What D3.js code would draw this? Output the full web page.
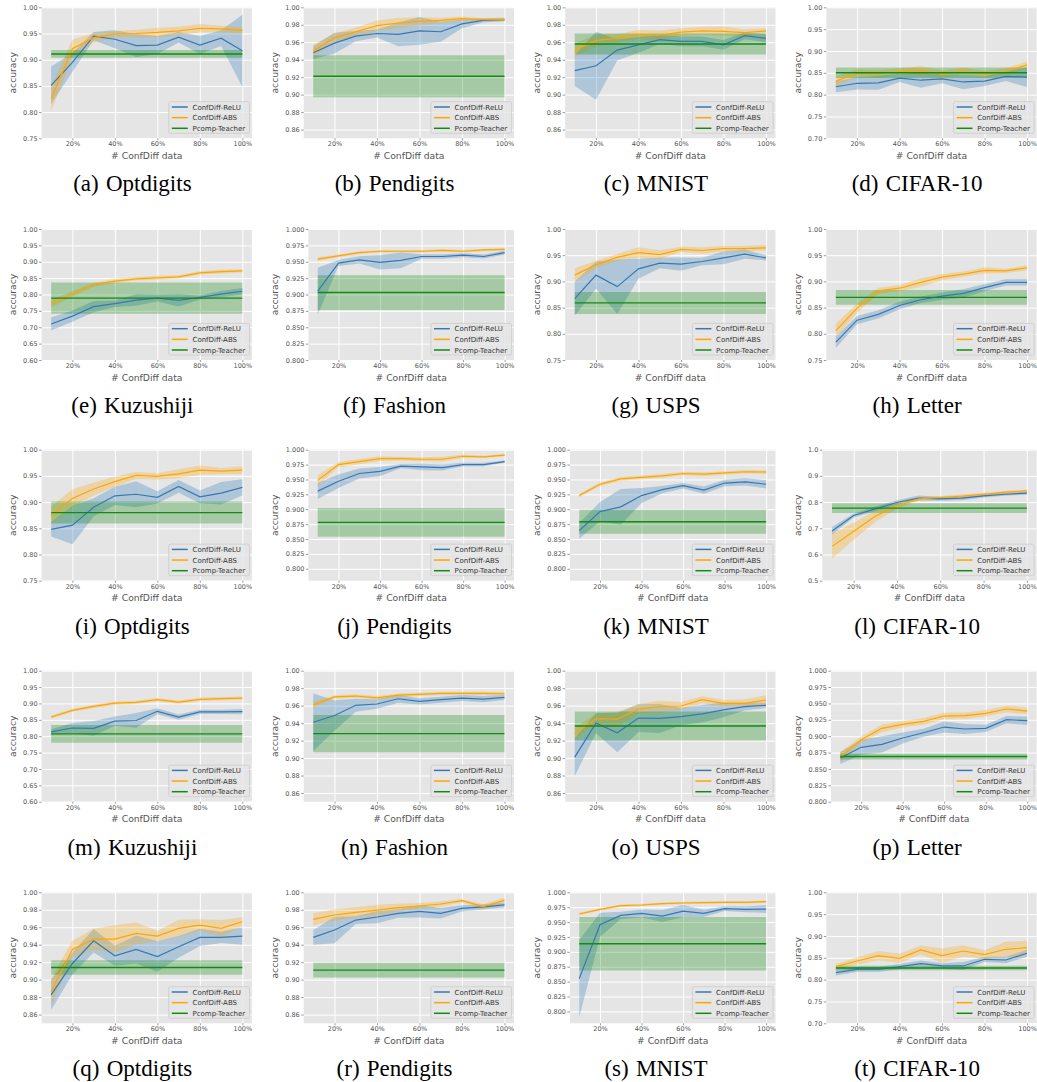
<!DOCTYPE html>
<html>
<head>
<meta charset="utf-8">
<script src="https://cdn.jsdelivr.net/npm/d3@7"></script>
<style>
  body { margin: 0; background: #fff; }
  svg { display: block; }
</style>
</head>
<body>
<div id="chart"></div>
<script>
// x: fraction of ConfDiff data
const xFractions = [0.1, 0.2, 0.3, 0.4, 0.5, 0.6, 0.7, 0.8, 0.9, 1.0];
const xTickValues = [0.2, 0.4, 0.6, 0.8, 1.0];
const seriesNames = ["ConfDiff-ReLU", "ConfDiff-ABS", "Pcomp-Teacher"];

const panelLetters = ["a","b","c","d","e","f","g","h","i","j","k","l","m","n","o","p","q","r","s","t"];
const datasetNames = ["Optdigits","Pendigits","MNIST","CIFAR-10","Kuzushiji","Fashion","USPS","Letter",
                      "Optdigits","Pendigits","MNIST","CIFAR-10","Kuzushiji","Fashion","USPS","Letter",
                      "Optdigits","Pendigits","MNIST","CIFAR-10"];

// y axis: lower limit (upper is always 1.0) and tick step
const yMin      = [0.75, 0.85, 0.85, 0.70, 0.60, 0.80, 0.75, 0.75, 0.75, 0.78, 0.78, 0.50, 0.60, 0.85, 0.85, 0.80, 0.85, 0.85, 0.78, 0.70];
const yTickStep = [0.05, 0.02, 0.02, 0.05, 0.05, 0.025, 0.05, 0.05, 0.05, 0.025, 0.025, 0.1, 0.05, 0.02, 0.02, 0.025, 0.02, 0.02, 0.025, 0.05];

// Pcomp-Teacher (constant over x): mean and std
const pcompMean = [0.911, 0.921, 0.958, 0.850, 0.789, 0.903, 0.859, 0.8696, 0.880, 0.878, 0.879, 0.777, 0.807, 0.928, 0.9366, 0.869, 0.9139, 0.9109, 0.9135, 0.8267];
const pcompSd   = [0.0075, 0.024, 0.012, 0.012, 0.048, 0.0265, 0.021, 0.014, 0.021, 0.024, 0.020, 0.019, 0.027, 0.0213, 0.0166, 0.0044, 0.0084, 0.0085, 0.045, 0.005];

// ConfDiff-ReLU / ConfDiff-ABS: mean and std per x
const reluA   = [0.851, 0.895, 0.945, 0.939, 0.927, 0.928, 0.943, 0.928, 0.941, 0.917];
const reluSdA = [0.036, 0.018, 0.008, 0.017, 0.022, 0.017, 0.010, 0.017, 0.015, 0.069];
const absA    = [0.826, 0.921, 0.942, 0.949, 0.950, 0.952, 0.955, 0.960, 0.959, 0.956];
const absSdA  = [0.024, 0.017, 0.009, 0.006, 0.007, 0.009, 0.008, 0.008, 0.006, 0.006];

const reluB   = [0.948, 0.959, 0.967, 0.970, 0.969, 0.973, 0.972, 0.981, 0.985, 0.986];
const reluSdB = [0.0075, 0.012, 0.006, 0.0045, 0.0135, 0.016, 0.0115, 0.005, 0.0025, 0.002];
const absB    = [0.950, 0.965, 0.972, 0.979, 0.982, 0.984, 0.985, 0.987, 0.986, 0.986];
const absSdB  = [0.0075, 0.005, 0.005, 0.006, 0.006, 0.0045, 0.003, 0.0025, 0.0015, 0.002];

const reluC   = [0.9275, 0.933, 0.951, 0.957, 0.963, 0.961, 0.961, 0.957, 0.9675, 0.9645];
const reluSdC = [0.0175, 0.039, 0.012, 0.009, 0.005, 0.0055, 0.0055, 0.0055, 0.004, 0.0045];
const absC    = [0.951, 0.962, 0.9645, 0.969, 0.968, 0.9715, 0.973, 0.9725, 0.971, 0.973];
const absSdC  = [0.0075, 0.0065, 0.005, 0.005, 0.0055, 0.0045, 0.0045, 0.0055, 0.004, 0.003];

const reluD   = [0.818, 0.826, 0.827, 0.838, 0.833, 0.836, 0.829, 0.831, 0.842, 0.840];
const reluSdD = [0.0125, 0.014, 0.016, 0.009, 0.0175, 0.010, 0.0165, 0.011, 0.011, 0.0225];
const absD    = [0.831, 0.849, 0.848, 0.853, 0.855, 0.847, 0.854, 0.847, 0.853, 0.868];
const absSdD  = [0.011, 0.009, 0.0085, 0.0075, 0.0105, 0.0085, 0.0075, 0.0075, 0.0075, 0.008];

const reluE   = [0.710, 0.734, 0.763, 0.772, 0.783, 0.789, 0.782, 0.791, 0.801, 0.810];
const reluSdE = [0.020, 0.0175, 0.0175, 0.010, 0.0175, 0.010, 0.0185, 0.006, 0.0095, 0.010];
const absE    = [0.772, 0.8015, 0.830, 0.841, 0.848, 0.851, 0.854, 0.866, 0.870, 0.872];
const absSdE  = [0.012, 0.008, 0.006, 0.006, 0.005, 0.006, 0.005, 0.005, 0.006, 0.005];

const reluF   = [0.905, 0.948, 0.953, 0.949, 0.952, 0.958, 0.958, 0.960, 0.958, 0.964];
const reluSdF = [0.036, 0.0045, 0.0055, 0.011, 0.012, 0.0035, 0.0035, 0.003, 0.003, 0.003];
const absF    = [0.954, 0.959, 0.964, 0.966, 0.966, 0.966, 0.9675, 0.966, 0.968, 0.969];
const absSdF  = [0.003, 0.002, 0.002, 0.002, 0.002, 0.002, 0.002, 0.002, 0.002, 0.002];

const reluG   = [0.867, 0.912, 0.890, 0.924, 0.935, 0.933, 0.938, 0.945, 0.952, 0.945];
const reluSdG = [0.0325, 0.026, 0.052, 0.019, 0.010, 0.0125, 0.007, 0.0125, 0.009, 0.005];
const absG    = [0.912, 0.932, 0.946, 0.955, 0.951, 0.961, 0.959, 0.9625, 0.9625, 0.964];
const absSdG  = [0.013, 0.0075, 0.0065, 0.010, 0.0085, 0.005, 0.006, 0.005, 0.005, 0.0055];

const reluH   = [0.784, 0.826, 0.837, 0.854, 0.865, 0.872, 0.877, 0.888, 0.898, 0.898];
const reluSdH = [0.011, 0.008, 0.008, 0.007, 0.006, 0.007, 0.008, 0.007, 0.006, 0.006];
const absH    = [0.806, 0.849, 0.882, 0.887, 0.898, 0.908, 0.914, 0.921, 0.920, 0.926];
const absSdH  = [0.013, 0.009, 0.006, 0.006, 0.008, 0.006, 0.005, 0.006, 0.004, 0.005];

const reluI   = [0.848, 0.856, 0.890, 0.912, 0.915, 0.909, 0.930, 0.910, 0.917, 0.928];
const reluSdI = [0.0135, 0.0365, 0.0175, 0.0175, 0.025, 0.0115, 0.012, 0.012, 0.0215, 0.0155];
const absI    = [0.875, 0.907, 0.925, 0.939, 0.951, 0.949, 0.954, 0.961, 0.959, 0.961];
const absSdI  = [0.0165, 0.0175, 0.0125, 0.010, 0.0065, 0.006, 0.0085, 0.009, 0.006, 0.0075];

const reluJ   = [0.9305, 0.947, 0.960, 0.9635, 0.9725, 0.971, 0.970, 0.975, 0.975, 0.980];
const reluSdJ = [0.0135, 0.0115, 0.0085, 0.0075, 0.0035, 0.0055, 0.005, 0.003, 0.003, 0.002];
const absJ    = [0.9485, 0.975, 0.980, 0.985, 0.985, 0.984, 0.984, 0.989, 0.988, 0.991];
const absSdJ  = [0.009, 0.0045, 0.0045, 0.004, 0.003, 0.0035, 0.004, 0.003, 0.002, 0.002];

const reluK   = [0.864, 0.896, 0.904, 0.923, 0.933, 0.9395, 0.932, 0.944, 0.946, 0.942];
const reluSdK = [0.0135, 0.016, 0.030, 0.0125, 0.006, 0.0045, 0.006, 0.0055, 0.006, 0.007];
const absK    = [0.923, 0.942, 0.951, 0.9535, 0.956, 0.960, 0.959, 0.961, 0.963, 0.9625];
const absSdK  = [0.003, 0.003, 0.003, 0.003, 0.003, 0.003, 0.003, 0.003, 0.003, 0.003];

const reluL   = [0.690, 0.749, 0.774, 0.7985, 0.815, 0.8125, 0.815, 0.824, 0.830, 0.834];
const reluSdL = [0.015, 0.0075, 0.009, 0.0085, 0.010, 0.0075, 0.0075, 0.0065, 0.006, 0.0055];
const absL    = [0.631, 0.689, 0.746, 0.786, 0.8125, 0.8175, 0.8225, 0.830, 0.838, 0.843];
const absSdL  = [0.0475, 0.0325, 0.0215, 0.010, 0.006, 0.0055, 0.0065, 0.0055, 0.005, 0.005];

const reluM   = [0.813, 0.825, 0.824, 0.846, 0.848, 0.876, 0.8585, 0.874, 0.874, 0.875];
const reluSdM = [0.0085, 0.015, 0.0225, 0.014, 0.0225, 0.009, 0.008, 0.0065, 0.0065, 0.008];
const absM    = [0.8585, 0.879, 0.891, 0.901, 0.903, 0.9115, 0.904, 0.9125, 0.9145, 0.9165];
const absSdM  = [0.005, 0.005, 0.005, 0.005, 0.005, 0.005, 0.005, 0.005, 0.005, 0.005];

const reluN   = [0.941, 0.9487, 0.9604, 0.9619, 0.9679, 0.9649, 0.9668, 0.9687, 0.9675, 0.9694];
const reluSdN = [0.033, 0.0175, 0.0075, 0.0055, 0.0045, 0.0035, 0.0035, 0.0035, 0.0035, 0.003];
const absN    = [0.961, 0.970, 0.971, 0.969, 0.972, 0.973, 0.974, 0.974, 0.974, 0.9736];
const absSdN  = [0.0035, 0.002, 0.002, 0.002, 0.002, 0.002, 0.002, 0.002, 0.002, 0.002];

const reluO   = [0.901, 0.940, 0.929, 0.9457, 0.9453, 0.9475, 0.9506, 0.9551, 0.9589, 0.9604];
const reluSdO = [0.0215, 0.0115, 0.0225, 0.016, 0.0165, 0.010, 0.010, 0.0085, 0.0045, 0.003];
const absO    = [0.928, 0.945, 0.9445, 0.956, 0.959, 0.9596, 0.9668, 0.9626, 0.9626, 0.9664];
const absSdO  = [0.0065, 0.006, 0.0085, 0.006, 0.0065, 0.0045, 0.004, 0.004, 0.0045, 0.0055];

const reluP   = [0.8667, 0.883, 0.8875, 0.8972, 0.9053, 0.914, 0.911, 0.912, 0.9252, 0.9237];
const reluSdP = [0.009, 0.0115, 0.0125, 0.0085, 0.006, 0.0085, 0.0075, 0.0055, 0.0055, 0.0065];
const absP    = [0.8682, 0.8947, 0.912, 0.9181, 0.9226, 0.9308, 0.9313, 0.9349, 0.9415, 0.9384];
const absSdP  = [0.008, 0.005, 0.006, 0.005, 0.005, 0.005, 0.005, 0.005, 0.005, 0.005];

const reluQ   = [0.8826, 0.9185, 0.9445, 0.9273, 0.9346, 0.9265, 0.9376, 0.9484, 0.9484, 0.9499];
const reluSdQ = [0.0175, 0.0125, 0.0135, 0.0115, 0.016, 0.0175, 0.0125, 0.010, 0.0065, 0.010];
const absQ    = [0.8864, 0.9346, 0.9464, 0.9464, 0.9529, 0.9499, 0.9587, 0.9625, 0.9587, 0.9663];
const absSdQ  = [0.015, 0.010, 0.012, 0.016, 0.0125, 0.006, 0.010, 0.0065, 0.0095, 0.005];

const reluR   = [0.9484, 0.9568, 0.9682, 0.9717, 0.9759, 0.9782, 0.9759, 0.9816, 0.9832, 0.9855];
const reluSdR = [0.0085, 0.015, 0.0045, 0.007, 0.005, 0.007, 0.006, 0.0035, 0.003, 0.0025];
const absR    = [0.969, 0.974, 0.977, 0.9797, 0.9824, 0.9843, 0.9866, 0.9904, 0.9836, 0.9908];
const absSdR  = [0.007, 0.0065, 0.006, 0.006, 0.0045, 0.0035, 0.003, 0.002, 0.003, 0.003];

const reluS   = [0.855, 0.9455, 0.9612, 0.9646, 0.9601, 0.9685, 0.9646, 0.9725, 0.9713, 0.9719];
const reluSdS = [0.065, 0.020, 0.006, 0.0065, 0.010, 0.010, 0.006, 0.004, 0.005, 0.0065];
const absS    = [0.9635, 0.9713, 0.9775, 0.9787, 0.9809, 0.982, 0.9826, 0.9831, 0.9831, 0.9843];
const absSdS  = [0.002, 0.002, 0.002, 0.002, 0.002, 0.002, 0.002, 0.002, 0.002, 0.002];

const reluT   = [0.816, 0.8237, 0.8237, 0.8298, 0.8366, 0.8313, 0.8313, 0.8466, 0.845, 0.8603];
const reluSdT = [0.0065, 0.006, 0.006, 0.006, 0.0075, 0.0065, 0.009, 0.006, 0.0075, 0.008];
const absT    = [0.8298, 0.8427, 0.855, 0.8489, 0.8679, 0.855, 0.8656, 0.8573, 0.8695, 0.8733];
const absSdT  = [0.006, 0.0085, 0.0105, 0.011, 0.0105, 0.017, 0.013, 0.010, 0.0175, 0.0155];

const reluMeans = [reluA, reluB, reluC, reluD, reluE, reluF, reluG, reluH, reluI, reluJ,
                   reluK, reluL, reluM, reluN, reluO, reluP, reluQ, reluR, reluS, reluT];
const reluSds   = [reluSdA, reluSdB, reluSdC, reluSdD, reluSdE, reluSdF, reluSdG, reluSdH, reluSdI, reluSdJ,
                   reluSdK, reluSdL, reluSdM, reluSdN, reluSdO, reluSdP, reluSdQ, reluSdR, reluSdS, reluSdT];
const absMeans  = [absA, absB, absC, absD, absE, absF, absG, absH, absI, absJ,
                   absK, absL, absM, absN, absO, absP, absQ, absR, absS, absT];
const absSds    = [absSdA, absSdB, absSdC, absSdD, absSdE, absSdF, absSdG, absSdH, absSdI, absSdJ,
                   absSdK, absSdL, absSdM, absSdN, absSdO, absSdP, absSdQ, absSdR, absSdS, absSdT];

// ---- layout ----
const W = 1037, H = 1082;
const rowTops = [7.3, 229, 449.7, 670.7, 892.3];
const colRights = [251.9, 514, 775.5, 1036.6];
const plotH = 131, baseW = 210.3;
const colors = { relu: "#3a77b2", abs: "#ffa500", pcomp: "#138a13" };
const bandColors = { relu: "#1f77b4", abs: "#ffa500", pcomp: "#008000" };
const tickFont = "DejaVu Sans, sans-serif";

const svg = d3.select("#chart").append("svg")
  .attr("width", W)
  .attr("height", H)
  .attr("viewBox", `0 0 ${W} ${H}`);

const defs = svg.append("defs");

panelLetters.forEach((letter, i) => {
  const row = Math.floor(i / 4), col = i % 4;
  const step = yTickStep[i];
  const dec = step === 0.1 ? 1 : (step === 0.025 ? 3 : 2);
  // wider tick labels push the plot's left edge in
  const leftAdj = dec === 3 ? 4.7 : (dec === 1 ? -4 : 0);
  const right = colRights[col];
  const left = right - baseW + leftAdj;
  const top = rowTops[row], bottom = top + plotH;

  const x = d3.scaleLinear().domain([0.055, 1.045]).range([left, right]);
  const y = d3.scaleLinear().domain([yMin[i], 1.0]).range([bottom, top]);

  const k0 = Math.ceil(yMin[i] / step - 1e-6), k1 = Math.round(1 / step);
  const yTicks = d3.range(k0, k1 + 1).map(k => +(k * step).toFixed(4));
  const fmt = d3.format(`.${dec}f`);

  const g = svg.append("g");

  // background
  g.append("rect")
    .attr("x", left).attr("y", top)
    .attr("width", right - left).attr("height", plotH)
    .attr("fill", "#e5e5e5");

  // grid
  g.append("g")
    .attr("transform", `translate(${left},0)`)
    .call(d3.axisLeft(y).tickValues(yTicks).tickSize(-(right - left)).tickFormat(""))
    .call(a => a.select(".domain").remove())
    .call(a => a.selectAll("line").attr("stroke", "#fff").attr("stroke-width", 1));
  g.append("g")
    .attr("transform", `translate(0,${bottom})`)
    .call(d3.axisBottom(x).tickValues(xTickValues).tickSize(-plotH).tickFormat(""))
    .call(a => a.select(".domain").remove())
    .call(a => a.selectAll("line").attr("stroke", "#fff").attr("stroke-width", 1));

  // clip
  const clipId = `clip-${letter}`;
  defs.append("clipPath").attr("id", clipId)
    .append("rect").attr("x", left).attr("y", top)
    .attr("width", right - left).attr("height", plotH);

  const plot = g.append("g").attr("clip-path", `url(#${clipId})`);

  const area = d3.area()
    .x(d => x(d.x))
    .y0(d => y(d.m - d.s))
    .y1(d => y(d.m + d.s));
  const line = d3.line()
    .x(d => x(d.x))
    .y(d => y(d.m));

  const series = [
    { key: "relu", pts: xFractions.map((v, j) => ({ x: v, m: reluMeans[i][j], s: reluSds[i][j] })), w: 1.2 },
    { key: "abs", pts: xFractions.map((v, j) => ({ x: v, m: absMeans[i][j], s: absSds[i][j] })), w: 1.2 },
    { key: "pcomp", pts: xFractions.map(v => ({ x: v, m: pcompMean[i], s: pcompSd[i] })), w: 1.4 }
  ];

  series.forEach(s => {
    plot.append("path")
      .datum(s.pts)
      .attr("d", area)
      .attr("fill", bandColors[s.key])
      .attr("fill-opacity", 0.28)
      .attr("stroke", "none");
  });
  series.forEach(s => {
    plot.append("path")
      .datum(s.pts)
      .attr("d", line)
      .attr("fill", "none")
      .attr("stroke", colors[s.key])
      .attr("stroke-width", s.w);
  });

  // axes
  g.append("g")
    .attr("transform", `translate(${left},0)`)
    .call(d3.axisLeft(y).tickValues(yTicks).tickFormat(fmt).tickSize(2.5).tickPadding(1.5))
    .call(a => a.select(".domain").remove())
    .call(a => a.selectAll("line").attr("stroke", "#555").attr("stroke-width", 0.6))
    .call(a => a.selectAll("text")
      .attr("fill", "#555")
      .style("font-family", tickFont)
      .style("font-size", "6.5px"));

  g.append("g")
    .attr("transform", `translate(0,${bottom})`)
    .call(d3.axisBottom(x).tickValues(xTickValues).tickFormat(d3.format(".0%")).tickSize(2).tickPadding(1.5))
    .call(a => a.select(".domain").remove())
    .call(a => a.selectAll("line").attr("stroke", "#555").attr("stroke-width", 0.6))
    .call(a => a.selectAll("text")
      .attr("fill", "#555")
      .style("font-family", tickFont)
      .style("font-size", "6.5px"));

  // axis labels
  g.append("text")
    .attr("x", (left + right) / 2)
    .attr("y", bottom + 20.7)
    .attr("text-anchor", "middle")
    .attr("fill", "#555")
    .style("font-family", tickFont)
    .style("font-size", "9.2px")
    .text("# ConfDiff data");

  g.append("text")
    .attr("transform", `translate(${right - 236},${(top + bottom) / 2}) rotate(-90)`)
    .attr("text-anchor", "middle")
    .attr("fill", "#555")
    .style("font-family", tickFont)
    .style("font-size", "9.2px")
    .text("accuracy");

  // legend (lower right)
  const lw = 80.7, lh = 31.6;
  const lx = right - 2.4 - lw, ly = bottom - 5 - lh;
  const lg = g.append("g");
  lg.append("rect")
    .attr("x", lx).attr("y", ly)
    .attr("width", lw).attr("height", lh)
    .attr("rx", 1.8)
    .attr("fill", "#e5e5e5").attr("fill-opacity", 0.8)
    .attr("stroke", "#cccccc").attr("stroke-width", 0.8);
  ["relu", "abs", "pcomp"].forEach((key, j) => {
    const cy = ly + 5.3 + j * 10.65;
    lg.append("line")
      .attr("x1", lx + 3).attr("x2", lx + 19)
      .attr("y1", cy).attr("y2", cy)
      .attr("stroke", colors[key])
      .attr("stroke-width", 1.5);
    lg.append("text")
      .attr("x", lx + 23.7)
      .attr("y", cy + 2.5)
      .attr("fill", "#333")
      .style("font-family", tickFont)
      .style("font-size", "7px")
      .text(seriesNames[j]);
  });

  // caption
  const cap = svg.append("text")
    .attr("x", right - 119.5)
    .attr("y", bottom + 53)
    .attr("text-anchor", "middle")
    .attr("fill", "#000")
    .style("font-family", "'Liberation Serif', 'Times New Roman', serif")
    .style("font-size", "23px");
  cap.append("tspan").text(`(${letter})`);
  cap.append("tspan").attr("dx", 1.5).text(" " + datasetNames[i]);
});
</script>
</body>
</html>
